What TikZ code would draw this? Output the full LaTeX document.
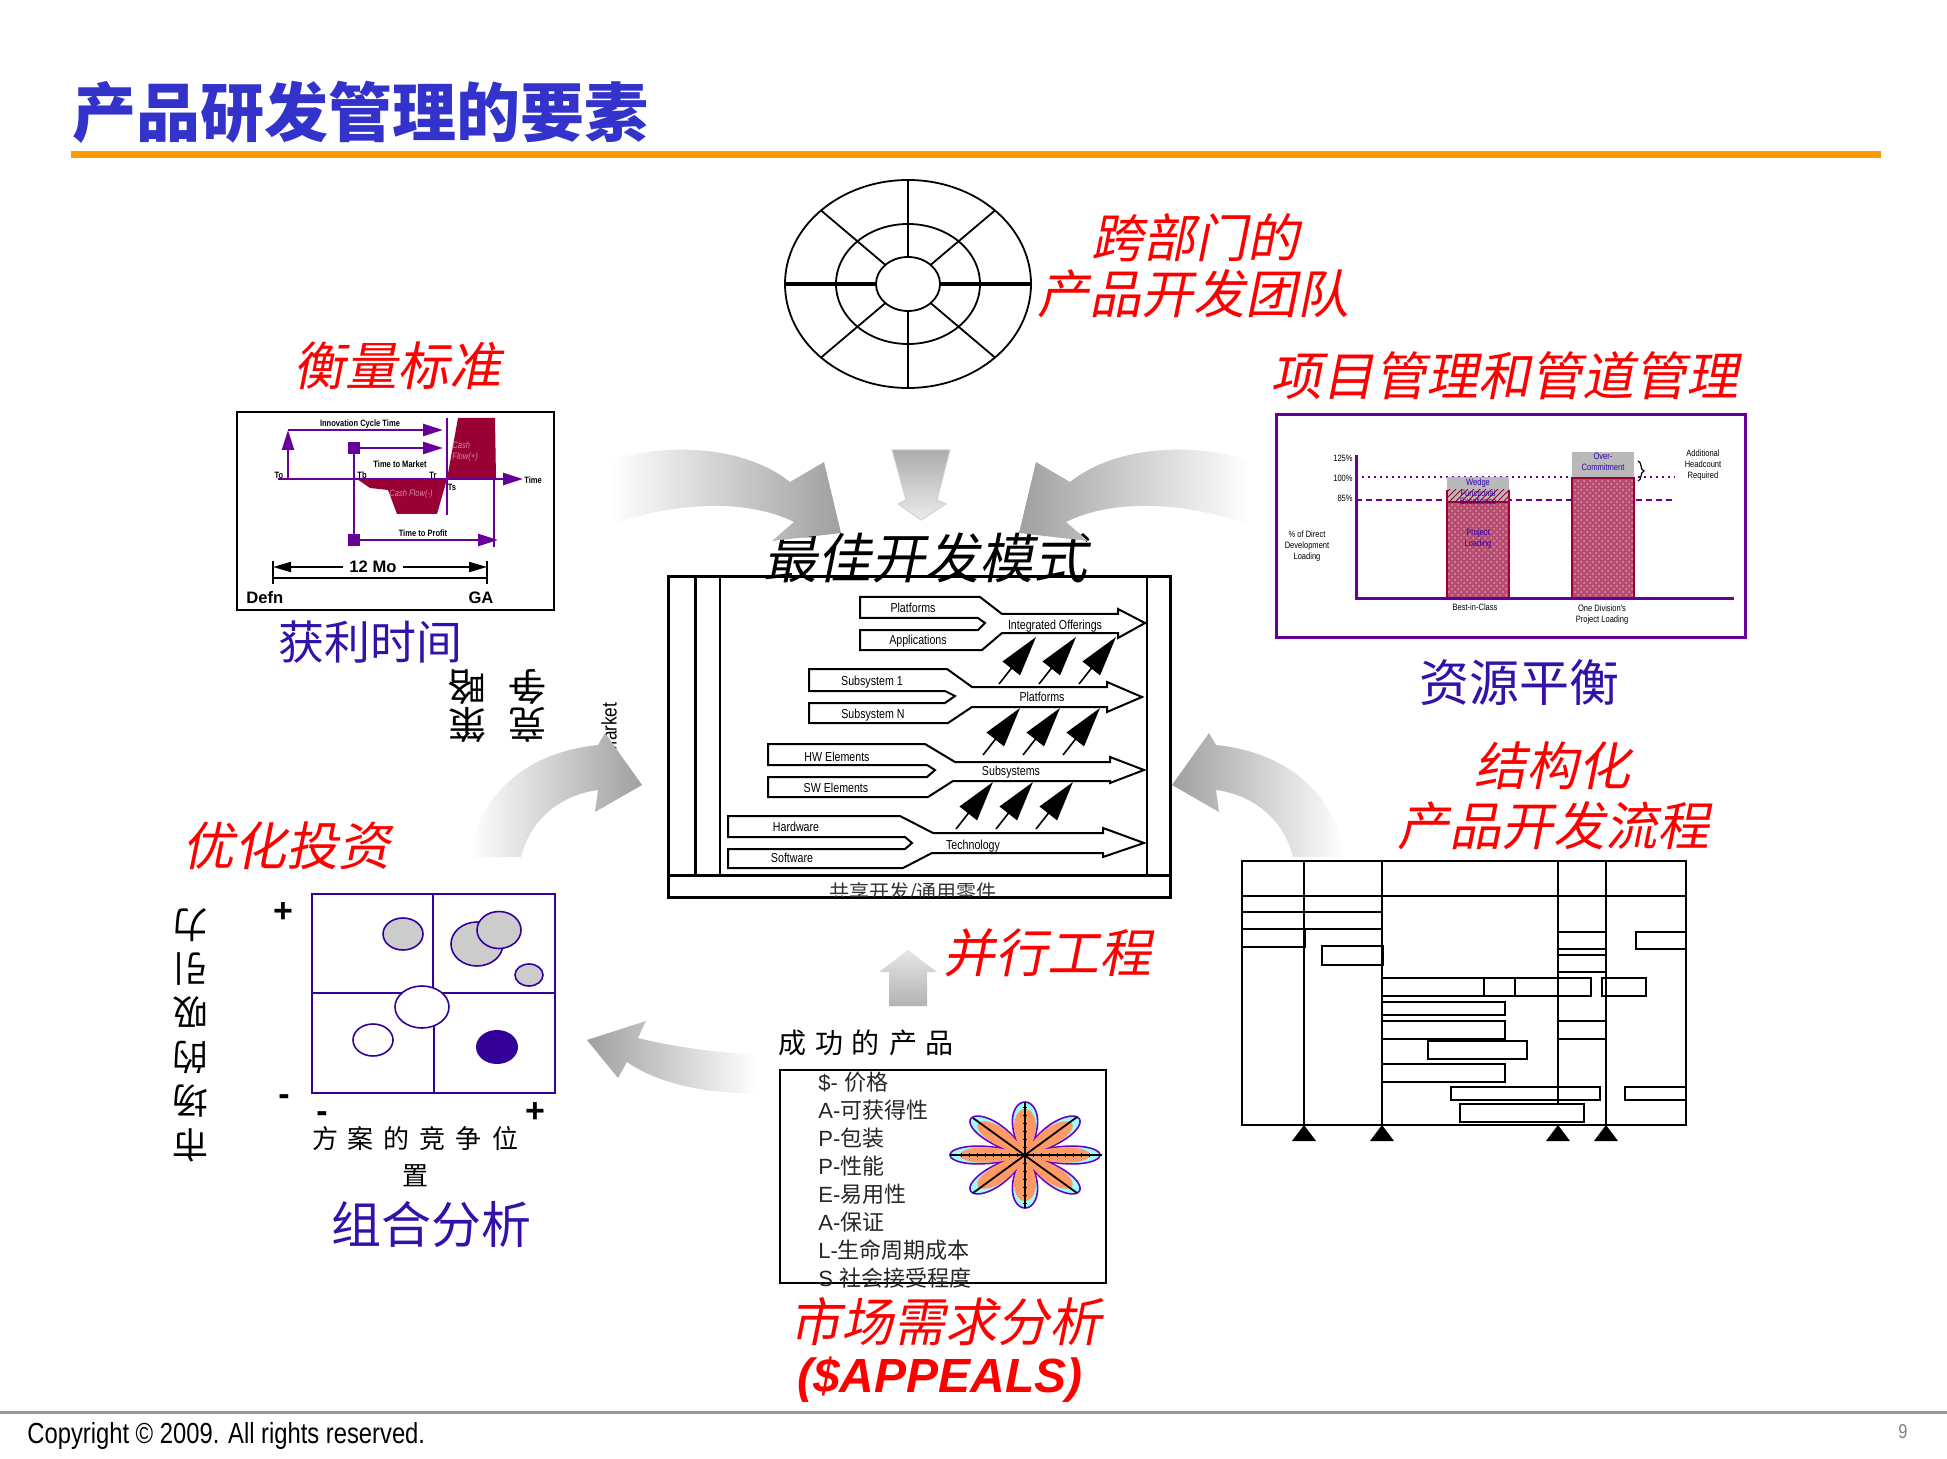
\documentclass[tikz,border=0pt]{standalone}
\usepackage{fontspec}
\setmainfont{Liberation Sans}
\newfontfamily\cjk{Noto Sans CJK SC}
\newfontfamily\cjkit[FakeSlant=0.2]{Noto Sans CJK SC}
\newfontfamily\narrowsf[FakeStretch=0.82]{Liberation Sans}
\usetikzlibrary{positioning,calc,arrows.meta,patterns,decorations.pathreplacing}

\definecolor{titleblue}{HTML}{3333CC}
\definecolor{barorange}{HTML}{FF9900}
\definecolor{labelblue}{HTML}{3311AA}
\definecolor{chartpurple}{HTML}{660099}
\definecolor{crimson}{HTML}{990033}
\definecolor{cashpink}{HTML}{DD88AA}
\definecolor{barblue}{HTML}{3300AA}
\definecolor{portblue}{HTML}{330099}
\definecolor{starorange}{HTML}{FF9966}
\definecolor{starcyan}{HTML}{99FFFF}
\definecolor{starline}{HTML}{6600CC}

\tikzset{
  redtitle/.style={text=red, font=\cjkit\fontsize{26}{30}\selectfont, inner sep=0pt},
  bluelabel/.style={text=labelblue, font=\cjk\fontsize{23}{27}\selectfont, inner sep=0pt},
  tinytext/.style={font=\narrowsf\fontsize{4.6}{5.5}\selectfont, inner sep=0pt, align=center},
  timetext/.style={font=\narrowsf\bfseries\fontsize{4.6}{5.5}\selectfont, inner sep=0pt},
  forktext/.style={font=\narrowsf\fontsize{6.5}{7}\selectfont, inner sep=0pt},
  forkline/.style={draw=black, line width=1pt, fill=white},
  purplearrow/.style={draw=chartpurple, line width=1.2pt, -{Triangle[length=10pt,width=6pt]}},
  blackarrow/.style={line width=0.8pt, -{Triangle[length=20pt,width=11pt]}},
  gantt/.style={draw=black, line width=1pt, fill=white},
  blob/.style={draw=portblue, line width=0.8pt},
  declare function={petal(\t)=0.3+0.7*abs(cos(4*\t));}
}

\begin{document}
\begin{tikzpicture}[x=0.5pt,y=-0.5pt]
\useasboundingbox (0,0) rectangle (1947,1459);
\fill[white] (0,0) rectangle (1947,1459);

% heading and rules
\node[anchor=west, text=titleblue, font=\cjk\bfseries\fontsize{32}{36}\selectfont, inner sep=0pt] (heading) at (72,112) {产品研发管理的要素};
\draw[barorange, line width=3.5pt] (71,155) -- (1881,155);
\draw[gray!80, line width=1.5pt] (0,1412) -- (1947,1412);
\node[anchor=west, font=\narrowsf\fontsize{14.5}{16}\selectfont, inner sep=0pt] (copyright) at (27,1436) {Copyright \textcopyright{} 2009. All rights reserved.};
\node[text=gray, font=\narrowsf\fontsize{10}{12}\selectfont, inner sep=0pt] (pagenum) at (1903,1432) {9};

% team wheel
\coordinate (hub) at (908,284);
\draw[line width=0.9pt] (hub) ellipse [x radius=61.5pt, y radius=52pt];
\draw[line width=0.9pt] (hub) ellipse [x radius=36pt, y radius=30pt];
\draw[line width=0.9pt] (hub) ellipse [x radius=16pt, y radius=13.5pt];
\draw[line width=1.6pt] ($(hub)+(-16pt,0)$) -- ($(hub)+(-61.5pt,0)$) ($(hub)+(16pt,0)$) -- ($(hub)+(61.5pt,0)$);
\draw[line width=0.9pt] ($(hub)+(0,13.5pt)$) -- ($(hub)+(0,52pt)$) ($(hub)+(0,-13.5pt)$) -- ($(hub)+(0,-52pt)$);
\foreach \a in {45,135,225,315}
  \draw[line width=0.9pt] ($(hub)+(\a:16pt and 13.5pt)$) -- ($(hub)+(\a:61.5pt and 52pt)$);

% red captions
\node[redtitle] (crossdept) at (1195,238) {跨部门的};
\node[redtitle] (devteam) at (1193,294) {产品开发团队};
\node[redtitle] (metrics) at (397,366) {衡量标准};
\node[redtitle] (pipeline) at (1504,376) {项目管理和管道管理};
\node[redtitle] (structured) at (1552,766) {结构化};
\node[redtitle] (process) at (1553,826) {产品开发流程};
\node[redtitle] (invest) at (286,846) {优化投资};
\node[redtitle] (concurrent) at (1047,953) {并行工程};
\node[redtitle] (marketreq) at (945,1322) {市场需求分析};
\node[text=red, font=\bfseries\itshape\fontsize{24}{28}\selectfont, inner sep=0pt] (appeals) at (940,1380) {(\$APPEALS)};

% blue captions
\node[bluelabel] (profit) at (370,642) {获利时间};
\node[bluelabel, font=\cjk\fontsize{25}{29}\selectfont] (balance) at (1519,683) {资源平衡};
\node[bluelabel, font=\cjk\fontsize{25}{29}\selectfont] (portfolio) at (431,1224) {组合分析};

% upside-down fragments
\node[rotate=180, font=\cjk\fontsize{19}{19}\selectfont, inner sep=0pt, align=center] (fragleft) at (467,706) {策\\略};
\node[rotate=180, font=\cjk\fontsize{19}{19}\selectfont, inner sep=0pt, align=center] (fragright) at (527,706) {竞\\争};
\node[rotate=90, font=\narrowsf\fontsize{10.5}{12}\selectfont, inner sep=0pt] (marketword) at (609,729) {Market};
\node[rotate=180, font=\cjk\fontsize{18}{22}\selectfont, inner sep=0pt, align=center] (attract) at (190,1035) {市\\场\\的\\吸\\引\\力};

% time-to-profit chart
\draw[line width=1.3pt] (237,412) rectangle (554,610);
\fill[crimson] (447,479) -- (458,418) -- (495,418) -- (496,479) -- cycle;
\fill[crimson] (357,479) -- (447,479) -- (437,514) -- (397,514) -- (388,490) -- (370,488) -- cycle;
\coordinate (t0) at (288,479);
\coordinate (tb) at (354,479);
\draw[purplearrow] (278,479) -- (523,479);
\draw[purplearrow] (t0) -- (288,430);
\draw[purplearrow] (288,430) -- (443,430);
\draw[purplearrow] (354,448) -- (443,448);
\draw[chartpurple, line width=1.2pt] (354,448) -- (354,540);
\draw[purplearrow] (354,540) -- (498,540);
\draw[chartpurple, line width=1.2pt] (447,418) -- (447,515);
\draw[chartpurple, line width=1.2pt] (494,479) -- (494,547);
\fill[chartpurple] (348,442) rectangle (360,454);
\fill[chartpurple] (348,534) rectangle (360,546);
\node[timetext] (icycle) at (360,424) {Innovation Cycle Time};
\node[timetext] (tmarket) at (400,464) {Time to Market};
\node[timetext] (tprofit) at (423,533) {Time to Profit};
\node[timetext] (lblto) at (279,475) {To};
\node[timetext] (lbltb) at (362,475) {Tb};
\node[timetext] (lbltr) at (433,475) {Tr};
\node[timetext] (lblts) at (452,487) {Ts};
\node[timetext, anchor=west] (lbltime) at (524,480) {Time};
\node[tinytext, text=cashpink, font=\narrowsf\itshape\fontsize{4.6}{5.5}\selectfont] (cashneg) at (411,494) {Cash Flow(-)};
\node[tinytext, text=cashpink, font=\narrowsf\itshape\fontsize{4.6}{5.5}\selectfont, align=left, anchor=west] (cashpos) at (452,452) {Cash\\Flow(+)};
\node[font=\bfseries\fontsize{8.3}{9}\selectfont, inner sep=0pt] (twelvemo) at (373,567) {12 Mo};
\coordinate (defnend) at (273,567);
\coordinate (gaend) at (487,567);
\draw[line width=1pt, -{Triangle[length=9pt,width=5pt]}] ([xshift=-3pt]twelvemo.west) -- (defnend);
\draw[line width=1pt, -{Triangle[length=9pt,width=5pt]}] ([xshift=3pt]twelvemo.east) -- (gaend);
\draw[line width=1pt] (273,578) -- (487,578) (273,561) -- (273,584) (487,561) -- (487,584);
\node[anchor=west, font=\bfseries\fontsize{8.3}{9}\selectfont, inner sep=0pt] (defn) at (246,598) {Defn};
\node[font=\bfseries\fontsize{8.3}{9}\selectfont, inner sep=0pt] (ga) at (481,598) {GA};

% resource loading chart
\draw[chartpurple, line width=1.5pt] (1276,415) rectangle (1745,637);
\draw[chartpurple, line width=1pt, dotted] (1356,477) -- (1675,477);
\draw[chartpurple, line width=0.9pt, dash pattern=on 3pt off 2pt] (1356,500) -- (1675,500);
\fill[gray!55] (1447,477) rectangle (1509,502);
\fill[pattern=north east lines, pattern color=crimson] (1447,490) rectangle (1509,502);
\fill[crimson!70] (1447,502) rectangle (1509,599);
\fill[pattern=crosshatch dots, pattern color=crimson!40] (1447,502) rectangle (1509,599);
\draw[crimson, line width=1.2pt] (1447,490) -- (1447,599) -- (1509,599) -- (1509,490) (1447,502) -- (1509,502);
\fill[gray!55] (1572,452) rectangle (1634,478);
\fill[crimson!70] (1572,478) rectangle (1634,599);
\fill[pattern=crosshatch dots, pattern color=crimson!40] (1572,478) rectangle (1634,599);
\draw[crimson, line width=1.2pt] (1572,478) rectangle (1634,599);
\draw[chartpurple, line width=1.5pt] (1356,455) -- (1356,599) -- (1734,599);
\node[tinytext, anchor=east] (p125) at (1353,458) {125\%};
\node[tinytext, anchor=east] (p100) at (1353,478) {100\%};
\node[tinytext, anchor=east] (p85) at (1353,498) {85\%};
\node[tinytext] (ylabel) at (1307,546) {\% of Direct\\Development\\Loading};
\node[tinytext, text=barblue, font=\narrowsf\fontsize{4.6}{4}\selectfont] (wedge) at (1478,492) {Wedge\\Functional\\Excellence};
\node[tinytext, text=barblue] (projload) at (1478,539) {Project\\Loading};
\node[tinytext, text=barblue] (overcommit) at (1603,462) {Over-\\Commitment};
\draw[line width=0.6pt, decorate, decoration={brace, amplitude=3pt}] (1638,461) -- (1638,481);
\node[tinytext] (headcount) at (1703,465) {Additional\\Headcount\\Required};
\node[tinytext] (bestclass) at (1475,607) {Best-in-Class};
\node[tinytext] (division) at (1602,615) {One Division's\\Project Loading};

% best development model
\draw[line width=1.5pt] (668,577) rectangle (1170,897);
\draw[line width=1.5pt] (668,875) -- (1170,875);
\draw[line width=1.5pt] (695,577) -- (695,875);
\draw[line width=0.8pt] (720,577) -- (720,875);
\draw[line width=1.3pt] (1147,577) -- (1147,875);
\begin{scope}
  \clip (668,876) rectangle (1170,896);
  \node[text=black!80, font=\cjk\fontsize{10}{12}\selectfont, inner sep=0pt] (shared) at (913,893) {共享开发/通用零件};
\end{scope}
\node[font=\cjkit\fontsize{27}{30}\selectfont, inner sep=0pt] (bestmodel) at (925,558) {最佳开发模式};

% merging arrows, top to bottom
\draw[forkline] (860,597) -- (980,597) -- (1002,614) -- (1118,614) -- (1118,609) -- (1145,623) -- (1118,638) -- (1118,633) -- (1002,633) -- (982,650) -- (860,650) -- (860,630) -- (978,630) -- (985,623) -- (978,618) -- (860,618) -- cycle;
\draw[forkline] (809,669) -- (947,669) -- (972,687) -- (1107,687) -- (1107,682) -- (1142,697) -- (1107,712) -- (1107,707) -- (972,707) -- (948,723) -- (809,723) -- (809,703) -- (945,703) -- (955,696) -- (945,691) -- (809,691) -- cycle;
\draw[forkline] (768,744) -- (925,744) -- (955,762) -- (1110,762) -- (1110,757) -- (1144,770) -- (1110,783) -- (1110,781) -- (953,781) -- (928,797) -- (768,797) -- (768,777) -- (927,777) -- (935,770) -- (927,765) -- (768,765) -- cycle;
\draw[forkline] (728,816) -- (900,816) -- (933,833) -- (1103,833) -- (1103,828) -- (1144,843) -- (1103,857) -- (1103,853) -- (932,853) -- (903,868) -- (728,868) -- (728,849) -- (905,849) -- (912,843) -- (905,837) -- (728,837) -- cycle;
\node[forktext] (platformsA) at (913,608) {Platforms};
\node[forktext] (applications) at (918,641) {Applications};
\node[forktext] (offerings) at (1055,626) {Integrated Offerings};
\node[forktext] (subsysone) at (872,682) {Subsystem 1};
\node[forktext] (subsysn) at (873,715) {Subsystem N};
\node[forktext] (platformsB) at (1042,697) {Platforms};
\node[forktext] (hwelem) at (837,757) {HW Elements};
\node[forktext] (swelem) at (836,788) {SW Elements};
\node[forktext] (subsystems) at (1011,772) {Subsystems};
\node[forktext] (hardware) at (796,827) {Hardware};
\node[forktext] (software) at (792,858) {Software};
\node[forktext] (technology) at (973,846) {Technology};
\foreach \bx/\by in {999/684, 983/755, 956/829}
  \foreach \k in {0,1,2}
    \draw[blackarrow] (\bx+40*\k,\by) -- ++(37,-47);

% gray feeder arrows
\shade[left color=white, right color=gray!75] (610,460) .. controls (680,440) and (750,450) .. (790,482) -- (824,462) -- (841,533) -- (772,541) -- (794,522) .. controls (750,500) and (680,500) .. (610,525) -- cycle;
\shade[left color=gray!75, right color=white] (1250,460) .. controls (1180,440) and (1110,450) .. (1070,482) -- (1036,462) -- (1019,533) -- (1088,541) -- (1066,522) .. controls (1110,500) and (1180,500) .. (1250,525) -- cycle;
\shade[top color=gray!65, bottom color=gray!15, draw=gray!35, line width=0.5pt] (892,450) -- (950,450) -- (937,500) -- (946,504) -- (921,520) -- (898,504) -- (906,500) -- cycle;
\shade[left color=white, right color=gray!75] (469,857) .. controls (480,790) and (530,752) .. (598,745) -- (605,733) -- (642,785) -- (595,812) -- (598,790) .. controls (560,795) and (530,820) .. (521,857) -- cycle;
\shade[left color=gray!75, right color=white] (1345,857) .. controls (1334,790) and (1284,752) .. (1216,745) -- (1209,733) -- (1172,785) -- (1219,812) -- (1216,790) .. controls (1254,795) and (1284,820) .. (1293,857) -- cycle;
\shade[left color=gray!75, right color=white] (587,1040) -- (646,1021) -- (638,1038) .. controls (670,1046) and (710,1052) .. (757,1055) -- (757,1093) .. controls (710,1094) and (660,1085) .. (627,1062) -- (618,1078) -- cycle;
\shade[top color=gray!20, bottom color=gray!60] (908,950) -- (937,972) -- (927,972) -- (927,1006) -- (889,1006) -- (889,972) -- (879,972) -- cycle;

% structured process grid
\draw[gantt] (1242,861) rectangle (1686,1125);
\draw[line width=1pt] (1242,896) -- (1686,896) (1242,912) -- (1383,912) (1242,929) -- (1383,929);
\draw[line width=1pt] (1242,947) -- (1305,947) -- (1305,929);
\foreach \xa/\ya/\xb/\yb in {1322/946/1383/965, 1558/932/1606/949, 1636/932/1686/949, 1558/955/1606/972,
    1382/978/1484/996, 1484/978/1515/996, 1515/978/1591/996, 1602/978/1646/996,
    1382/1002/1505/1015, 1382/1021/1505/1039, 1558/1021/1606/1039, 1428/1041/1527/1059,
    1382/1064/1505/1082, 1451/1087/1600/1100, 1625/1087/1686/1100}
  \draw[gantt] (\xa,\ya) rectangle (\xb,\yb);
\foreach \gx in {1304,1382,1558,1606} {
  \draw[line width=1pt] (\gx,861) -- (\gx,\ifnum\gx=1558 1104\else 1125\fi);
  \fill (\gx,1125) -- (\gx+12,1141) -- (\gx-12,1141) -- cycle;
}
\draw[gantt] (1460,1104) rectangle (1584,1122);

% portfolio matrix
\draw[portblue, line width=1pt] (312,894) rectangle (555,1093);
\draw[portblue, line width=1pt] (433,894) -- (433,993) (434,993) -- (434,1093) (312,993) -- (555,993);
\fill[gray!40, blob] (403,934) ellipse [x radius=10pt, y radius=8pt];
\fill[gray!40, blob] (477,944) ellipse [x radius=13pt, y radius=11pt];
\fill[gray!40, blob] (499,930) ellipse [x radius=11pt, y radius=9.25pt];
\fill[gray!40, blob] (529,975) ellipse [x radius=7pt, y radius=5.5pt];
\fill[white, blob] (422,1007) ellipse [x radius=13.5pt, y radius=10.5pt];
\fill[white, blob] (373,1040) ellipse [x radius=10pt, y radius=8pt];
\fill[portblue] (497,1047) ellipse [x radius=10.5pt, y radius=8.5pt];
\node[font=\bfseries\fontsize{17}{18}\selectfont, inner sep=0pt] (plustop) at (283,913) {+};
\node[font=\bfseries\fontsize{17}{18}\selectfont, inner sep=0pt] (minusleft) at (284,1100) {-};
\node[font=\bfseries\fontsize{17}{18}\selectfont, inner sep=0pt] (minusbottom) at (322,1117) {-};
\node[font=\bfseries\fontsize{17}{18}\selectfont, inner sep=0pt] (plusright) at (535,1113) {+};
\node[font=\cjk\fontsize{13}{18.5}\selectfont, inner sep=0pt, align=center] (position) at (415,1157) {方\hspace{5pt}案\hspace{5pt}的\hspace{5pt}竞\hspace{5pt}争\hspace{5pt}位\\置};

% successful product / APPEALS
\node[font=\cjk\fontsize{14}{16}\selectfont, inner sep=0pt] (success) at (866,1043) {成\hspace{4.5pt}功\hspace{4.5pt}的\hspace{4.5pt}产\hspace{4.5pt}品};
\draw[line width=1.2pt] (780,1070) rectangle (1106,1283);
\node[anchor=west, font=\fontsize{11}{14}\selectfont, inner sep=0pt, align=left, text=black!85] (appealslist) at (818,1180)
  {\$- {\cjk 价格}\\A-{\cjk 可获得性}\\P-{\cjk 包装}\\P-{\cjk 性能}\\E-{\cjk 易用性}\\A-{\cjk 保证}\\L-{\cjk 生命周期成本}\\S {\cjk 社会接受程度}};
\coordinate (starc) at (1025,1155);
\filldraw[fill=starcyan, draw=starline, line width=0.8pt] plot[domain=0:360, samples=241, smooth] ({1025+75*petal(\x)*cos(\x)}, {1155+53*petal(\x)*sin(\x)}) -- cycle;
\fill[starorange] plot[domain=0:360, samples=241, smooth] ({1025+65*petal(\x)*cos(\x)}, {1155+46*petal(\x)*sin(\x)}) -- cycle;
\draw[line width=0.9pt] (950,1155) -- (1102,1155) (1025,1102) -- (1025,1208) (973,1118) -- (1077,1193) (973,1193) -- (1077,1117);
\foreach \t in {-64,-56,...,64} {
  \draw[line width=0.4pt] (1025+\t,1153) -- (1025+\t,1157);
}
\foreach \t in {-48,-40,...,48} {
  \draw[line width=0.4pt] (1023,1155+\t) -- (1027,1155+\t);
}
\end{tikzpicture}
\end{document}
